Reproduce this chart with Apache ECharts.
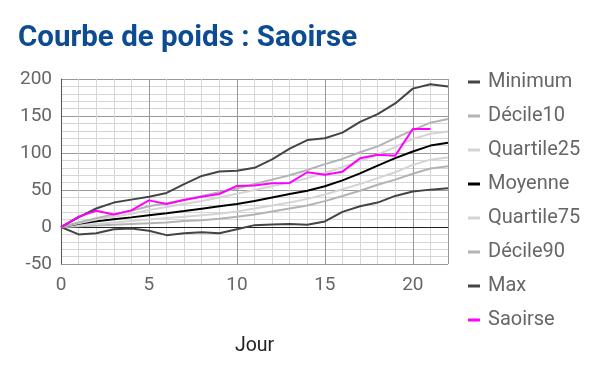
<!DOCTYPE html>
<html><head><meta charset="utf-8">
<script src="https://cdn.jsdelivr.net/npm/echarts@6/dist/echarts.min.js"></script>
<style>html,body{margin:0;padding:0;background:#fff}#c{width:600px;height:371px}</style>
</head><body><div id="c"></div>
<script>
const days = [0,1,2,3,4,5,6,7,8,9,10,11,12,13,14,15,16,17,18,19,20,21,22];
const minimum  = [0,-10,-8.5,-3,-2,-5,-11,-8.5,-7,-8.5,-3,2.5,3.5,4,3,7.5,20.5,28,33,42,48,50.5,52.5];
const decile10 = [0,1,2,3,4,5,6,8,9,11,14,17,21,25,29,35,42,49,57,64,72,79,82];
const quartile25 = [0,2,4,6,8,10,12,14,16,18,21,25,29,33,38,44,51,58,66,74,84,91,94];
const moyenne  = [0,4.5,7.7,10.4,13,15.8,18.5,21.6,24.8,28,31,35,40,44.5,49,55,63,72.5,83,93,102,110,114];
const quartile75 = [0,5,10,14,18,23,27,31,35,40,45,50,55,60,66,73,81,89,98,108,119,126,129];
const decile90 = [0,6,12,17,22,28,32,37,42,47,52,58,64,70,77,85,92,101,109,120,131,141,146];
const maximum  = [0,13,25,33,37,41,46,58,69,75,76,80,91.5,106,117.5,120,127.5,142,152.5,167,187,193,190];
const saoirse  = [0,14,22,17,22.5,36,31,36.5,41,44.6,55.5,56,59,59.5,74,70.7,74.8,92.8,97.7,96.4,132.4,132.4];
const yTicks = [-50,0,50,100,150,200];

const pairs = a => a.map((v,i)=>[days[i], v]);
const mk = (name, data, color, w) => ({
  name, type:'line', data: pairs(data), symbol:'none', smooth:false,
  lineStyle:{color, width:w}, itemStyle:{color}, z: name==='Saoirse'?10:5, silent:true
});
const series = [
  mk('Minimum', minimum, '#444444', 2),
  mk('Décile10', decile10, '#b3b3b3', 2),
  mk('Quartile25', quartile25, '#d4d4d4', 2),
  mk('Moyenne', moyenne, '#000000', 2),
  mk('Quartile75', quartile75, '#d4d4d4', 2),
  mk('Décile90', decile90, '#b3b3b3', 2),
  mk('Max', maximum, '#444444', 2),
  mk('Saoirse', saoirse, '#ff00ff', 2)
];
series[0].markLine = {silent:true, symbol:'none', label:{show:false},
  lineStyle:{color:'#222', width:1, type:'solid'}, data:[{yAxis:0}]};

const chart = echarts.init(document.getElementById('c'), null, {renderer:'canvas'});
chart.setOption({
  animation:false,
  backgroundColor:'#fff',
  title:{text:'Courbe de poids : Saoirse', left:13, top:19,
    textStyle:{fontFamily:'Roboto', fontWeight:'bold', fontSize:29.5, color:'#0e4c92'}},
  legend:{orient:'vertical', left:463, top:67, itemGap:14, itemWidth:12, itemHeight:20,
    data:series.map(s=>({name:s.name, icon:'path://M0,8 L12,8 L12,11 L0,11 Z'})),
    textStyle:{fontFamily:'Roboto', fontSize:20, lineHeight:20, color:'#666', padding:[0,0,0,3]}},
  grid:{left:61, right:152, top:79, bottom:107, containLabel:false},
  xAxis:{type:'value', min:0, max:22, interval:5, name:'Jour', nameLocation:'middle', nameGap:72,
    nameTextStyle:{fontFamily:'Roboto', fontSize:19.5, color:'#222'},
    axisLine:{show:false}, axisTick:{show:false},
    axisLabel:{fontFamily:'Roboto', fontSize:19, color:'#666', margin:12, showMaxLabel:false},
    splitLine:{show:true, lineStyle:{color:'#999', width:1}},
    minorTick:{show:false, splitNumber:5},
    minorSplitLine:{show:true, lineStyle:{color:'#d6d6d6', width:1}}},
  yAxis:{type:'value', min:-50, max:200, interval:50,
    axisLine:{show:true, lineStyle:{color:'#555', width:1}}, axisTick:{show:false},
    axisLabel:{fontFamily:'Roboto', fontSize:19, color:'#666', margin:9,
      formatter: v => yTicks.includes(v) ? String(v) : ''},
    splitLine:{show:true, lineStyle:{color:'#999', width:1}},
    minorTick:{show:false, splitNumber:5},
    minorSplitLine:{show:true, lineStyle:{color:'#d6d6d6', width:1}}},
  series
});
</script></body></html>
